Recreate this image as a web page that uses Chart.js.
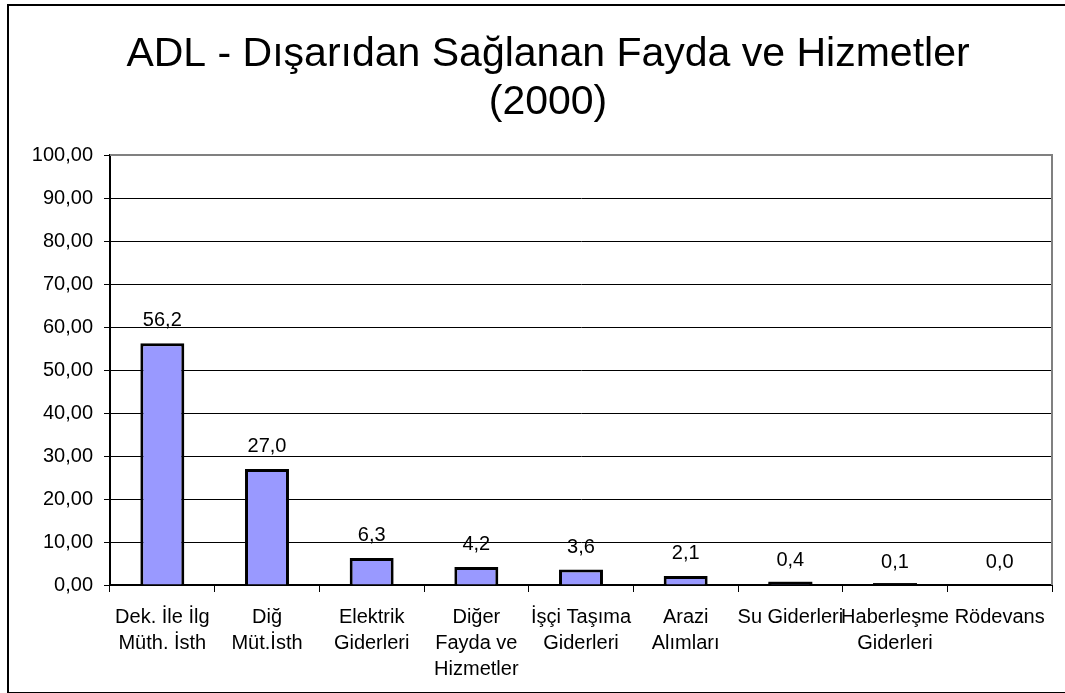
<!DOCTYPE html>
<html>
<head>
<meta charset="utf-8">
<script src="https://cdn.jsdelivr.net/npm/chart.js@4.4.1/dist/chart.umd.min.js"></script>
<style>
    body { margin: 0; background: #fff; overflow: hidden; }
    #frame {
        position: absolute; left: 7px; top: 4px;
        width: 1100px; height: 686px;
        border: 2px solid #000;
    }
    #chart { position: absolute; left: 0; top: 0; }
</style>
</head>
<body>
<div id="frame"></div>
<canvas id="chart" width="1065" height="693"></canvas>
<script>
/* global Chart */

const titleLines = ['ADL - Dışarıdan Sağlanan Fayda ve Hizmetler', '(2000)'];

const categories = [
    ['Dek. İle İlg', 'Müth. İsth'],
    ['Diğ', 'Müt.İsth'],
    ['Elektrik', 'Giderleri'],
    ['Diğer', 'Fayda ve', 'Hizmetler'],
    ['İşçi Taşıma', 'Giderleri'],
    ['Arazi', 'Alımları'],
    'Su Giderleri',
    ['Haberleşme', 'Giderleri'],
    'Rödevans'
];

const values = [56.2, 27.0, 6.3, 4.2, 3.6, 2.1, 0.4, 0.1, 0.0];

const yMin = 0;
const yMax = 100;
const yStep = 10;

const FONT = '"Liberation Sans", Arial, sans-serif';

const titlePlugin = {
    id: 'titleLines',
    afterDraw(chart) {
        const ctx = chart.ctx;
        ctx.save();
        ctx.fillStyle = '#000';
        ctx.font = '41px ' + FONT;
        ctx.textAlign = 'center';
        ctx.textBaseline = 'alphabetic';
        ctx.fillText(titleLines[0], 548, 66);
        ctx.fillText(titleLines[1], 548, 114);
        ctx.restore();
    }
};

const plotBorder = {
    id: 'plotBorder',
    afterDraw(chart) {
        const { ctx, chartArea } = chart;
        ctx.save();
        ctx.strokeStyle = '#808080';
        ctx.lineWidth = 2;
        ctx.beginPath();
        ctx.moveTo(chartArea.left, chartArea.top);
        ctx.lineTo(chartArea.right, chartArea.top);
        ctx.lineTo(chartArea.right, chartArea.bottom);
        ctx.stroke();
        ctx.restore();
    }
};

// value labels, and the outline of bars too thin for chart.js to draw a border on
const valueLabels = {
    id: 'valueLabels',
    afterDatasetsDraw(chart) {
        const ctx = chart.ctx;
        const meta = chart.getDatasetMeta(0);
        ctx.save();
        meta.data.forEach((bar, i) => {
            const h = bar.base - bar.y;
            if (values[i] > 0 && h < 6) {
                ctx.fillStyle = '#000';
                ctx.fillRect(bar.x - bar.width / 2, bar.y - 1.5, bar.width, h + 1.5);
            }
        });
        ctx.fillStyle = '#000';
        ctx.font = '20px ' + FONT;
        ctx.textAlign = 'center';
        ctx.textBaseline = 'alphabetic';
        meta.data.forEach((bar, i) => {
            ctx.fillText(values[i].toFixed(1).replace('.', ','), bar.x, bar.y - 17);
        });
        ctx.restore();
    }
};

new Chart(document.getElementById('chart'), {
    type: 'bar',
    data: {
        labels: categories,
        datasets: [{
            data: values,
            backgroundColor: '#9999ff',
            borderColor: '#000',
            borderWidth: 3,
            borderSkipped: 'bottom',
            barPercentage: 0.42,
            categoryPercentage: 1
        }]
    },
    options: {
        responsive: false,
        animation: false,
        devicePixelRatio: 1,
        layout: { padding: { top: 155, right: 13, left: 0, bottom: 0 } },
        plugins: {
            legend: { display: false },
            tooltip: { enabled: false }
        },
        scales: {
            x: {
                afterFit(scale) { scale.height = 108; },
                grid: {
                    display: true,
                    drawOnChartArea: false,
                    offset: true,
                    color: '#000',
                    tickLength: 7,
                    lineWidth: 1
                },
                border: { color: '#000', width: 2 },
                ticks: {
                    autoSkip: false,
                    maxRotation: 0,
                    color: '#000',
                    padding: 12,
                    font: { family: FONT, size: 20, lineHeight: 1.3 }
                }
            },
            y: {
                min: yMin,
                max: yMax,
                afterFit(scale) { scale.width = 110; },
                grid: {
                    color: ctx => (ctx.tick && ctx.tick.value === yMax ? 'rgba(0,0,0,0)' : '#000'),
                    tickColor: '#000',
                    tickLength: 6,
                    lineWidth: 1
                },
                border: { color: '#000', width: 2 },
                ticks: {
                    stepSize: yStep,
                    color: '#000',
                    padding: 11,
                    font: { family: FONT, size: 20 },
                    callback: value => value.toFixed(2).replace('.', ',')
                }
            }
        }
    },
    plugins: [titlePlugin, plotBorder, valueLabels]
});
</script>
</body>
</html>
